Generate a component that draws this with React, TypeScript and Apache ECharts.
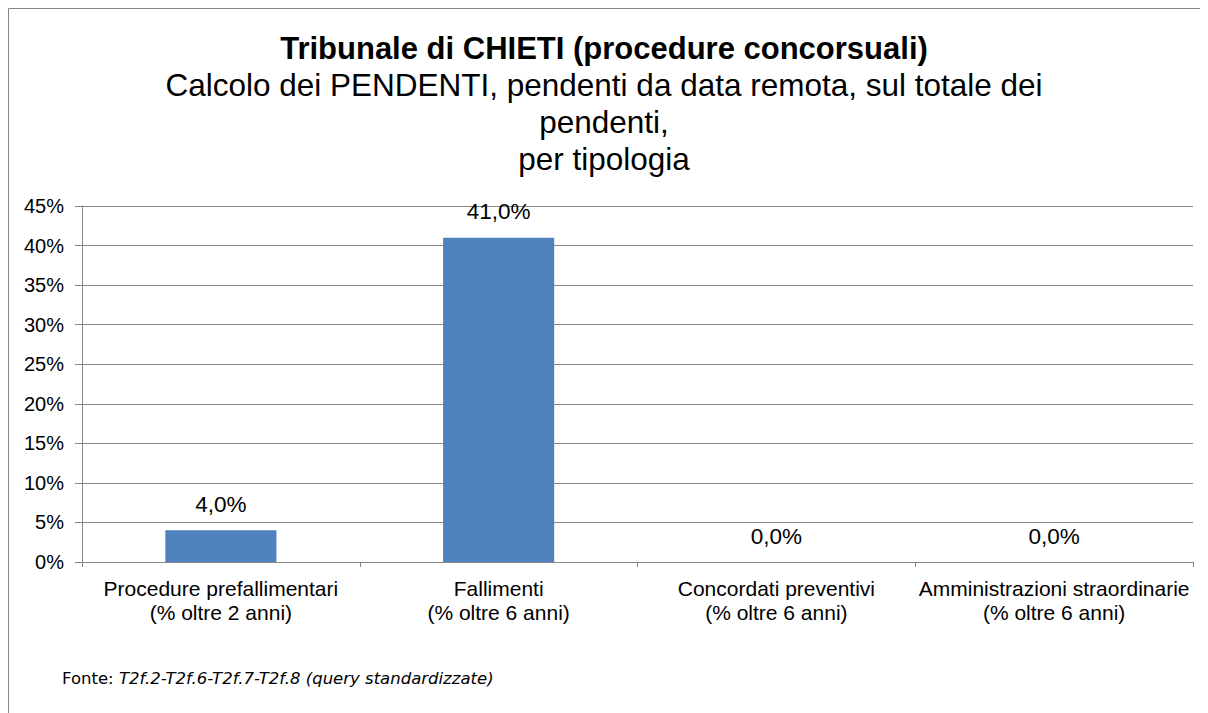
import React, { useEffect, useRef } from "react";
import * as echarts from "echarts";

const categories = [
  "Procedure prefallimentari\n(% oltre 2 anni)",
  "Fallimenti\n(% oltre 6 anni)",
  "Concordati preventivi\n(% oltre 6 anni)",
  "Amministrazioni straordinarie\n(% oltre 6 anni)",
];
const values = [4.0, 41.0, 0.0, 0.0];
const titleText = "Tribunale di CHIETI (procedure concorsuali)";
const subtitleLines = [
  "Calcolo dei PENDENTI, pendenti da data remota, sul totale dei",
  "pendenti,",
  "per tipologia",
];
const sourceLabel = "Fonte: ";
const sourceText = "T2f.2-T2f.6-T2f.7-T2f.8 (query standardizzate)";

const FONT = "'Liberation Sans', Arial, sans-serif";
const GRID = "#868686";

export default function App() {
  const ref = useRef<HTMLDivElement>(null);
  useEffect(() => {
    if (!ref.current) return;
    const chart = echarts.init(ref.current, undefined, { renderer: "svg" });
    chart.setOption({
      animation: false,
      graphic: [
        {
          type: "rect",
          shape: { x: 0.5, y: 0.5, width: 1400, height: 1000 },
          style: { fill: "none", stroke: GRID, lineWidth: 1 },
          silent: true,
        },
        {
          type: "text",
          x: 596,
          y: 40,
          style: {
            text: titleText,
            font: `bold 31px ${FONT}`,
            fill: "#000",
            textAlign: "center",
            textVerticalAlign: "middle",
          },
        },
        ...subtitleLines.map((t, i) => ({
          type: "text",
          x: 596,
          y: 77 + i * 37,
          style: {
            text: t,
            font: `31.5px ${FONT}`,
            fill: "#000",
            textAlign: "center",
            textVerticalAlign: "middle",
          },
        })),
        {
          type: "text",
          x: 54,
          y: 670,
          style: {
            text: `{n|${sourceLabel}}{i|${sourceText}}`,
            rich: {
              n: { fontFamily: "'DejaVu Sans', Verdana, sans-serif", fontSize: 16.5, fill: "#000" },
              i: {
                fontFamily: "'DejaVu Sans', Verdana, sans-serif",
                fontSize: 16.5,
                fontStyle: "italic",
                fill: "#000",
              },
            },
            textVerticalAlign: "middle",
          },
        },
      ],
      grid: { left: 74, right: 15, top: 198, height: 356, containLabel: false },
      xAxis: {
        type: "category",
        data: categories,
        axisLine: { show: true, lineStyle: { color: GRID, width: 1 } },
        axisTick: { show: true, length: 5, lineStyle: { color: GRID } },
        axisLabel: {
          interval: 0,
          color: "#000",
          fontFamily: FONT,
          fontSize: 21,
          lineHeight: 24,
          margin: 14,
        },
      },
      yAxis: {
        type: "value",
        min: 0,
        max: 45,
        interval: 5,
        axisLine: { show: true, lineStyle: { color: GRID, width: 1 } },
        axisTick: { show: true, length: 7, lineStyle: { color: GRID } },
        splitLine: { show: true, lineStyle: { color: GRID, width: 1 } },
        axisLabel: {
          color: "#000",
          fontFamily: FONT,
          fontSize: 20,
          margin: 18,
          formatter: (v: number) => `${v}%`,
        },
      },
      series: [
        {
          type: "bar",
          data: values,
          barCategoryGap: "60%",
          itemStyle: { color: "#4F81BD" },
          label: {
            show: true,
            position: "top",
            distance: 14,
            color: "#000",
            fontFamily: FONT,
            fontSize: 22.5,
            lineHeight: 24,
            formatter: (p: any) => `${p.value.toFixed(1).replace(".", ",")}%`,
          },
        },
      ],
    });
    return () => chart.dispose();
  }, []);
  return <div ref={ref} style={{ width: 1200, height: 705 }} />;
}
